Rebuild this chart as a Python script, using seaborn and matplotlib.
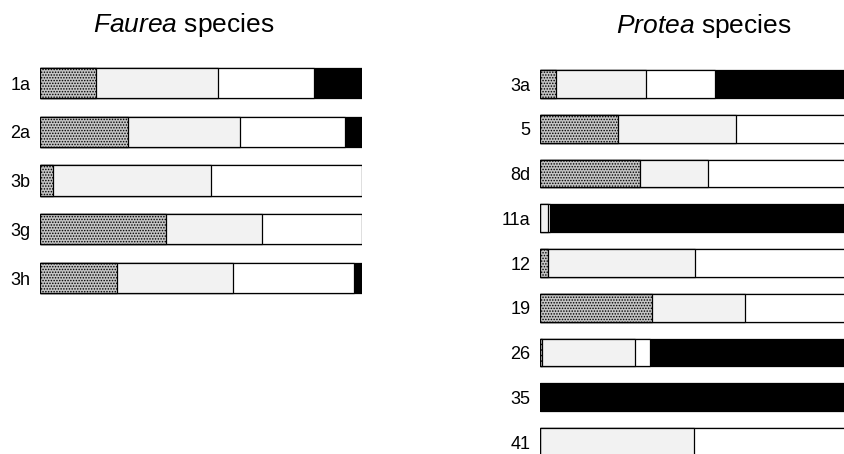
import numpy as np
import pandas as pd
import matplotlib
matplotlib.use("Agg")
import matplotlib.pyplot as plt
import seaborn as sns

# === data: share (%) of each segment per species ===
faurea_labels = ["1a", "2a", "3b", "3g", "3h"]
faurea_dark = [17.4, 27.3, 4.0, 39.1, 23.9]
faurea_light = [37.9, 34.8, 49.1, 29.8, 36.0]
faurea_white = [29.8, 32.6, 46.9, 31.1, 37.6]
faurea_black = [14.9, 5.3, 0.0, 0.0, 2.5]

protea_labels = ["3a", "5", "8d", "11a", "12", "19", "26", "35", "41"]
protea_dark = [5.0, 24.2, 31.1, 0.0, 2.5, 34.8, 0.6, 0.0, 0.0]
protea_light = [28.0, 36.6, 21.1, 2.5, 45.7, 28.9, 28.9, 0.0, 47.8]
protea_white = [21.4, 39.2, 47.8, 0.6, 51.8, 36.3, 4.7, 0.0, 52.2]
protea_black = [45.6, 0.0, 0.0, 96.9, 0.0, 0.0, 65.8, 100.0, 0.0]

# === style ===
sns.set_style("white")
plt.rcParams["font.family"] = ["Liberation Sans", "DejaVu Sans"]
plt.rcParams["mathtext.fontset"] = "custom"
plt.rcParams["mathtext.rm"] = "Liberation Sans"
plt.rcParams["mathtext.it"] = "Liberation Sans:italic"
plt.rcParams["text.color"] = "black"
plt.rcParams["ytick.labelcolor"] = "black"
plt.rcParams["hatch.linewidth"] = 0.7

seg_colors = ["#c4c4c4", "#f2f2f2", "#ffffff", "#000000"]
seg_hatches = ["......", None, None, None]


def draw_panel(ax, labels, segs):
    cum = np.cumsum(np.array(segs), axis=0)
    # draw cumulative bars from longest to shortest so they stack visually
    for k in reversed(range(len(segs))):
        n0 = len(ax.patches)
        sns.barplot(x=cum[k], y=labels, orient="h", ax=ax,
                    color=seg_colors[k], saturation=1, width=0.62,
                    edgecolor="black", linewidth=0.9)
        if seg_hatches[k]:
            for p in ax.patches[n0:]:
                p.set_hatch(seg_hatches[k])
    ax.set_xlim(0, 100)
    ax.set_ylim(len(labels) - 0.5, -0.5)
    ax.set_xticks([])
    ax.set_xlabel("")
    ax.set_ylabel("")
    ax.tick_params(axis="y", length=0, pad=7, labelsize=13, labelcolor="black")
    sns.despine(ax=ax, left=True, bottom=True)


fig = plt.figure(figsize=(8.44, 4.54), dpi=100)
ax1 = fig.add_axes([0.0474, 0.3339, 0.3815, 0.5369])
ax2 = fig.add_axes([0.6398, -0.0229, 0.3815, 0.8871])

draw_panel(ax1, faurea_labels, [faurea_dark, faurea_light, faurea_white, faurea_black])
draw_panel(ax2, protea_labels, [protea_dark, protea_light, protea_white, protea_black])

fig.text(183.5 / 844, 1 - 32 / 454, r"$\mathit{Faurea}$ species",
         ha="center", va="baseline", fontsize=19, color="black")
fig.text(703.5 / 844, 1 - 33 / 454, r"$\mathit{Protea}$ species",
         ha="center", va="baseline", fontsize=19, color="black")

fig.savefig("out.png", dpi=100)
